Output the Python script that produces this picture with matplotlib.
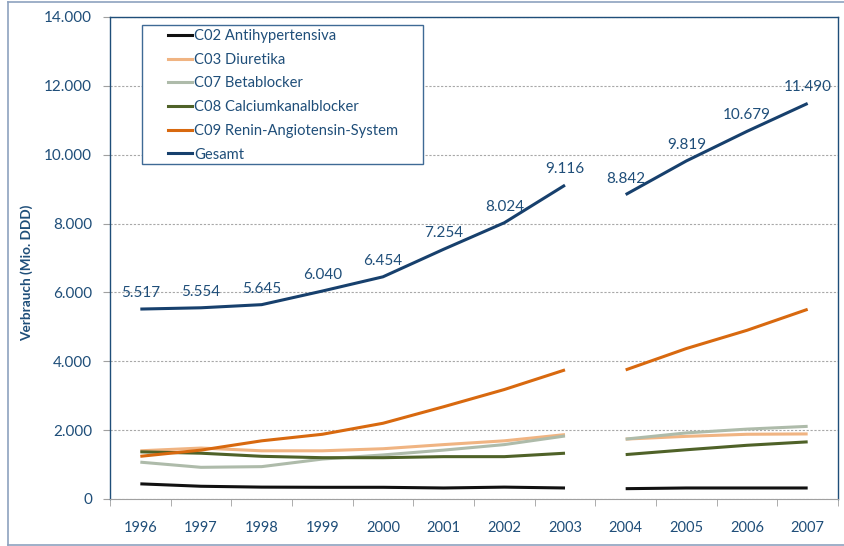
import numpy as np
import matplotlib
matplotlib.use("Agg")
import matplotlib.pyplot as plt
from matplotlib.lines import Line2D
from matplotlib.patches import Rectangle

plt.rcParams['font.family'] = ['Lato', 'DejaVu Sans']

years = ['1996', '1997', '1998', '1999', '2000', '2001', '2002', '2003',
         '2004', '2005', '2006', '2007']

c02 = [440, 370, 345, 340, 340, 320, 345, 320, 300, 320, 320, 320]
c03 = [1400, 1480, 1400, 1400, 1460, 1580, 1690, 1870, 1740, 1820, 1880, 1890]
c07 = [1070, 920, 940, 1160, 1280, 1420, 1580, 1830, 1740, 1920, 2030, 2110]
c08 = [1370, 1330, 1240, 1200, 1200, 1230, 1230, 1330, 1290, 1430, 1560, 1660]
c09 = [1240, 1420, 1690, 1880, 2200, 2680, 3180, 3750, 3750, 4370, 4900, 5510]
gesamt = [5517, 5554, 5645, 6040, 6454, 7254, 8024, 9116,
          8842, 9819, 10679, 11490]

series = [
    ('C02 Antihypertensiva', c02, '#111111'),
    ('C03 Diuretika', c03, '#F0B482'),
    ('C07 Betablocker', c07, '#AEBBAA'),
    ('C08 Calciumkanalblocker', c08, '#4F6228'),
    ('C09 Renin-Angiotensin-System', c09, '#D8690F'),
    ('Gesamt', gesamt, '#17406D'),
]

txt = '#1F4E79'
W, H = 844, 546
fig = plt.figure(figsize=(W / 100, H / 100), dpi=100)
ax = fig.add_axes([110 / W, 1 - 499 / H, 728 / W, 482 / H])

x = np.arange(len(years))
brk = 8  # break between 2003 and 2004
handles = []
for name, vals, col in series:
    v = np.array(vals, dtype=float)
    ax.plot(x[:brk], v[:brk], color=col, lw=2.2, solid_capstyle='butt')
    ax.plot(x[brk:], v[brk:], color=col, lw=2.2, solid_capstyle='butt')
    handles.append(Line2D([], [], color=col, lw=2.2, label=name))

for xi, v in zip(x, gesamt):
    lab = f'{v:,}'.replace(',', '.')
    ax.annotate(lab, (xi, v), xytext=(0, 11.5), textcoords='offset points',
                ha='center', va='center', fontsize=11, color=txt)

ax.set_xlim(-0.5, len(years) - 0.5)
ax.set_ylim(0, 14000)
ax.set_yticks(np.arange(0, 14001, 2000))
ax.set_yticklabels([f'{int(t):,}'.replace(',', '.') for t in np.arange(0, 14001, 2000)])
ax.set_xticks(x)
ax.set_xticklabels(years)
ax.set_xticks(np.arange(-0.5, len(years), 1), minor=True)
ax.tick_params(axis='x', which='major', length=0, pad=16, labelsize=10.5, labelcolor=txt)
ax.tick_params(axis='x', which='minor', length=5, color='#A0A0A0', direction='out')
ax.tick_params(axis='y', length=5, color='#A0A0A0', labelsize=11, labelcolor=txt, pad=8)

ax.grid(axis='y', color='#A8A8A8', ls=(0, (2, 1.5)), lw=0.8)
ax.set_axisbelow(True)
for s in ['left', 'top', 'right']:
    ax.spines[s].set_color('#1F4E79')
    ax.spines[s].set_linewidth(1.0)
ax.spines['bottom'].set_color('#A0A0A0')

ax.set_ylabel('Verbrauch (Mio. DDD)', fontsize=9.8, fontweight='bold', color=txt)
ax.yaxis.set_label_coords(33 / W, 0.5, transform=fig.transFigure)

# legend box
fig.patches.append(Rectangle((142 / W, 1 - 164 / H), 281 / W, 139 / H,
                             transform=fig.transFigure, facecolor='white',
                             edgecolor='#3F6A95', lw=1.0, zorder=5))
leg = fig.legend(handles=handles, loc='upper left',
                 bbox_to_anchor=(168 / W, 1 - 29 / H), frameon=False,
                 fontsize=10.6, handlelength=1.65, handletextpad=0.15,
                 labelspacing=0.66, borderpad=0, borderaxespad=0)
leg.set_zorder(6)
for t in leg.get_texts():
    t.set_color(txt)

# outer frame
fc = '#8DA2BF'
fig.add_artist(Line2D([8 / W, 8 / W], [1 / H, 1 - 2 / H], color=fc, lw=1.2, transform=fig.transFigure))
fig.add_artist(Line2D([8 / W, 1], [1 - 2 / H, 1 - 2 / H], color=fc, lw=1.2, transform=fig.transFigure))
fig.add_artist(Line2D([8 / W, 1], [1 / H, 1 / H], color=fc, lw=1.2, transform=fig.transFigure))

fig.savefig('out.png', dpi=100)
